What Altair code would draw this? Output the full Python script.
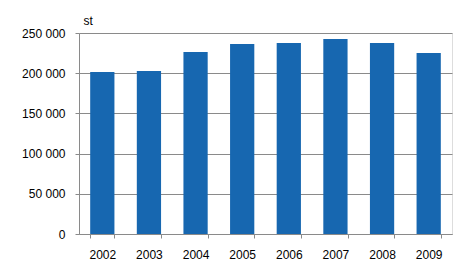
import altair as alt
import pandas as pd

years = ["2002", "2003", "2004", "2005", "2006", "2007", "2008", "2009"]
values = [201500, 202700, 226400, 236300, 237600, 242500, 237600, 225100]

df = pd.DataFrame({"year": years, "value": values})

gray = "#8a8a8a"
font = "Liberation Sans"

chart = alt.Chart(df).mark_bar(color="#1767b0").encode(
    x=alt.X("year:N", sort=years, title=None,
            scale=alt.Scale(paddingInner=0.48, paddingOuter=0.24),
            axis=alt.Axis(labelAngle=0, tickBand="extent", tickSize=4,
                          labelPadding=11, domainColor=gray, tickColor=gray,
                          labelFont=font, labelFontSize=12, labelColor="#000",
                          grid=False)),
    y=alt.Y("value:Q", title="st",
            scale=alt.Scale(domain=[0, 250000], nice=False),
            axis=alt.Axis(values=[0, 50000, 100000, 150000, 200000, 250000],
                          labelExpr="replace(format(datum.value, ',d'), /,/g, ' ')",
                          tickSize=4, labelPadding=10, domainColor=gray,
                          tickColor=gray, gridColor=gray, grid=True,
                          labelFont=font, labelFontSize=12, labelColor="#000",
                          titleAngle=0, titleX=4, titleY=-9, titleAlign="left",
                          titleBaseline="alphabetic",
                          titleFont=font, titleFontSize=12,
                          titleFontWeight="normal", titleColor="#000")),
).properties(
    width=373, height=201,
    autosize=alt.AutoSizeParams(type="none"),
    padding={"left": 79, "top": 33, "right": 15, "bottom": 41},
).configure_view(stroke=None).configure(background="white")

chart.save("out.html", embed_options={"renderer": "svg", "actions": False})
